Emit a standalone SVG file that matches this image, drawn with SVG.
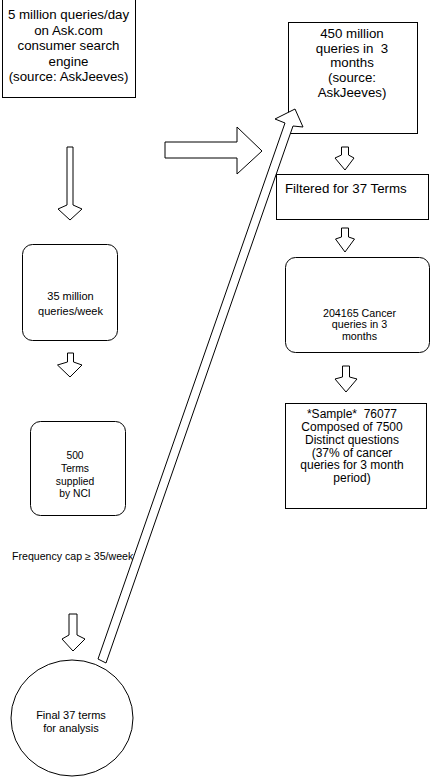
<svg xmlns="http://www.w3.org/2000/svg" width="432" height="777" viewBox="0 0 432 777">
<style>
.box{fill:#fff;stroke:#000;stroke-width:1}
.arr{fill:#fff;stroke:#000;stroke-width:1;stroke-linejoin:miter}
text{font-family:"Liberation Sans",Arial,sans-serif;fill:#000;text-anchor:middle}
.big{font-size:13.3px}
.sm{font-size:11px}
</style>
<rect width="432" height="777" fill="#fff"/>
<g id="node-askcom">
<rect class="box" x="2.5" y="-2" width="133" height="99.5"/>
<text class="big" x="68.5" y="19">5 million queries/day</text>
<text class="big" x="68.5" y="34.5">on Ask.com</text>
<text class="big" x="68.5" y="50">consumer search</text>
<text class="big" x="68.5" y="65.5">engine</text>
<text class="big" x="68.5" y="81">(source: AskJeeves)</text>
</g>
<g id="node-35million">
<rect class="box" x="22.5" y="244.5" width="95" height="96" rx="10" ry="10"/>
<text class="sm" x="70.5" y="300">35 million</text>
<text class="sm" x="70.5" y="315">queries/week</text>
</g>
<g id="node-500terms">
<rect class="box" x="30.5" y="421.5" width="95" height="94" rx="10" ry="10"/>
<text x="75" y="459" style="font-size:10.3px">500</text>
<text x="75" y="472" style="font-size:10.3px">Terms</text>
<text x="75" y="485" style="font-size:10.3px">supplied</text>
<text x="75" y="497" style="font-size:10.3px">by NCI</text>
</g>
<g id="label-frequency">
<text x="12" y="560" style="font-size:10.6px;text-anchor:start">Frequency cap ≥ 35/week</text>
</g>
<g id="node-final">
<ellipse class="box" cx="72" cy="718" rx="61" ry="58"/>
<text class="sm" x="71" y="719">Final 37 terms</text>
<text class="sm" x="71" y="732">for analysis</text>
</g>
<g id="node-450million">
<rect class="box" x="288.5" y="22.5" width="129" height="111"/>
<text class="big" x="352" y="38">450 million</text>
<text class="big" x="352" y="52.5" xml:space="preserve">queries in  3</text>
<text class="big" x="352" y="67">months</text>
<text class="big" x="352" y="82">(source:</text>
<text class="big" x="352" y="96.5">AskJeeves)</text>
</g>
<g id="node-filtered">
<rect class="box" x="276.5" y="174.5" width="152" height="45"/>
<text class="big" x="285" y="192.5" style="text-anchor:start">Filtered for 37 Terms</text>
</g>
<g id="node-204165">
<rect class="box" x="285.5" y="257.5" width="144" height="95" rx="10" ry="10"/>
<text x="359.5" y="316.5" style="font-size:10.7px">204165 Cancer</text>
<text x="359.5" y="328" style="font-size:10.7px">queries in 3</text>
<text x="359.5" y="339.5" style="font-size:10.7px">months</text>
</g>
<g id="node-sample">
<rect class="box" x="285.5" y="403.5" width="141" height="105"/>
<text x="352" y="418" style="font-size:12px" xml:space="preserve">*Sample*  76077</text>
<text x="352" y="431" style="font-size:12px">Composed of 7500</text>
<text x="352" y="444" style="font-size:12px">Distinct questions</text>
<text x="352" y="456.5" style="font-size:12px">(37% of cancer</text>
<text x="352" y="469" style="font-size:12px">queries for 3 month</text>
<text x="352" y="482" style="font-size:12px">period)</text>
</g>
<g id="connectors">
<polygon class="arr" points="67,147 73,147 73,205 82,209 70,220 58,209 67,205"/>
<polygon class="arr" points="67.5,353 73.5,353 73.5,362 82,365 70,377 57.5,365 67.5,362"/>
<polygon class="arr" points="69,614 77,614 77,635 85,639 73,651 62,639 69,635"/>
<polygon class="arr" points="165,142 237,142 237,127 262,151 237,174 237,158 165,158"/>
<polygon class="arr" points="341.5,147 348.5,147 348.5,155 354,158 345,170 335,158 341.5,155"/>
<polygon class="arr" points="341.5,228 348.5,228 348.5,237 354.5,239 345,252 335.5,239 341.5,237"/>
<polygon class="arr" points="342.5,366 349.5,366 349.5,377 357,379 346,392 335,379 342.5,377"/>
<polygon class="arr" points="98,659 285,123 275,119 295,109 303,127 293,126 106,663"/>
</g>
</svg>
